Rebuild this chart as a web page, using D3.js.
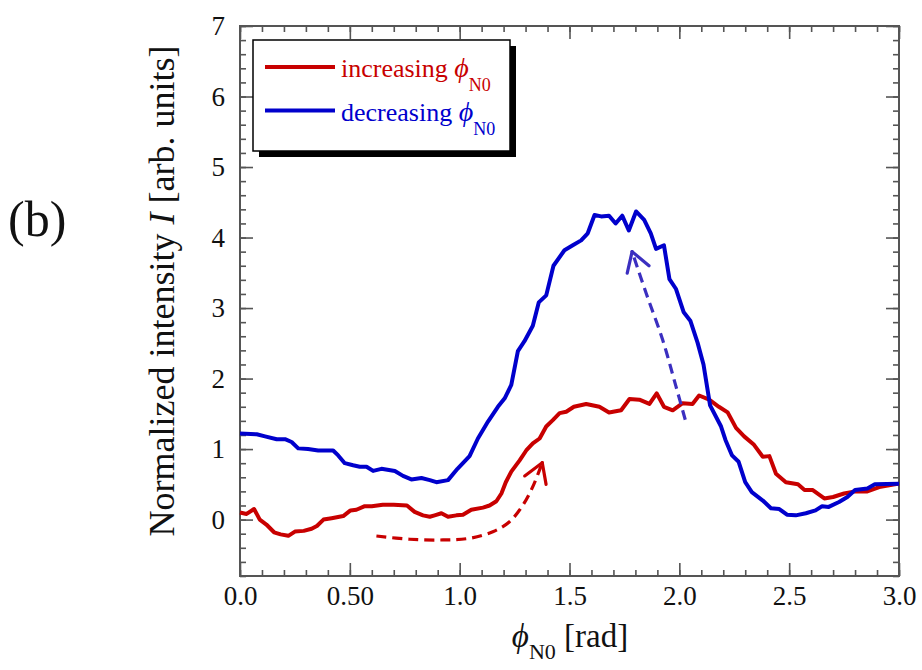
<!DOCTYPE html>
<html><head><meta charset="utf-8">
<script src="https://cdn.jsdelivr.net/npm/d3@7"></script>
<style>body{margin:0;background:#fff}svg{display:block}text{font-family:"Liberation Serif","Times New Roman",serif}</style>
</head><body>
<svg id="c" width="922" height="670"></svg>
<script>
// ---- data ----
const incPhi = [0.0,0.03,0.064,0.09,0.12,0.155,0.185,0.22,0.25,0.29,0.326,0.35,0.38,0.417,0.47,0.503,0.53,0.568,0.6,0.65,0.70,0.76,0.795,0.833,0.864,0.886,0.917,0.947,0.985,1.015,1.053,1.106,1.136,1.167,1.19,1.21,1.235,1.273,1.303,1.333,1.364,1.394,1.424,1.455,1.485,1.52,1.576,1.636,1.68,1.735,1.773,1.818,1.864,1.897,1.93,1.97,2.015,2.06,2.09,2.136,2.18,2.22,2.258,2.295,2.34,2.38,2.41,2.44,2.485,2.54,2.57,2.606,2.66,2.70,2.75,2.80,2.856,2.91,3.0];
const incI   = [0.10,0.08,0.15,0.0,-0.07,-0.18,-0.21,-0.23,-0.17,-0.16,-0.13,-0.09,0.0,0.02,0.05,0.13,0.14,0.19,0.19,0.21,0.21,0.20,0.11,0.06,0.04,0.06,0.09,0.04,0.06,0.07,0.14,0.17,0.20,0.26,0.37,0.53,0.68,0.84,0.98,1.08,1.15,1.32,1.41,1.51,1.53,1.60,1.64,1.60,1.52,1.55,1.71,1.70,1.64,1.79,1.60,1.55,1.65,1.64,1.76,1.70,1.60,1.52,1.30,1.18,1.06,0.89,0.90,0.65,0.53,0.50,0.42,0.42,0.30,0.32,0.37,0.40,0.40,0.46,0.51];
const decPhi = [0.0,0.076,0.114,0.167,0.205,0.235,0.265,0.31,0.356,0.424,0.447,0.477,0.515,0.545,0.576,0.606,0.644,0.705,0.742,0.78,0.826,0.864,0.894,0.947,0.99,1.045,1.083,1.129,1.174,1.205,1.235,1.265,1.295,1.333,1.36,1.394,1.427,1.477,1.515,1.553,1.583,1.614,1.644,1.68,1.71,1.74,1.77,1.803,1.84,1.87,1.894,1.93,1.955,1.985,2.02,2.05,2.083,2.11,2.14,2.19,2.21,2.24,2.27,2.30,2.33,2.38,2.417,2.455,2.49,2.53,2.576,2.62,2.65,2.68,2.727,2.765,2.80,2.856,2.89,3.0];
const decI   = [1.22,1.21,1.18,1.14,1.14,1.10,1.01,1.00,0.98,0.98,0.91,0.80,0.77,0.75,0.75,0.69,0.72,0.69,0.62,0.57,0.59,0.56,0.53,0.56,0.72,0.90,1.15,1.39,1.60,1.72,1.91,2.39,2.53,2.75,3.08,3.18,3.60,3.82,3.89,3.96,4.06,4.32,4.30,4.31,4.20,4.31,4.10,4.37,4.25,4.06,3.84,3.89,3.41,3.27,2.94,2.82,2.51,2.20,1.62,1.32,1.13,0.91,0.82,0.53,0.39,0.27,0.16,0.15,0.07,0.06,0.09,0.13,0.19,0.18,0.25,0.32,0.42,0.44,0.50,0.51];
// annotation arrows (data coordinates)
const arrowIncPhi = [0.621,0.773,0.924,1.045,1.151,1.227,1.288,1.333,1.376];
const arrowIncI   = [-0.233,-0.279,-0.289,-0.265,-0.172,-0.030,0.207,0.467,0.807];
const arrowDecPhi = [2.027,1.985,1.924,1.849,1.785];
const arrowDecI   = [1.416,1.885,2.55,3.21,3.80];
const xMajor = [0,0.5,1.0,1.5,2.0,2.5,3.0];
const xLabels = ["0.0","0.50","1.0","1.5","2.0","2.5","3.0"];
const yMajor = [0,1,2,3,4,5,6,7];
const seriesNames = ["increasing","decreasing"];
const seriesColors = ["#c80000","#0000cc"];
const arrowColors = ["#c80000","#3b2fc0"];

// ---- layout ----
const L=240,R=899,T=26,B=576;
const svg=d3.select("#c");
const x=d3.scaleLinear().domain([0,3]).range([L,R]);
const y=d3.scaleLinear().domain([-0.8,7]).range([B,T]);
const xMinor=d3.range(0,3.0001,0.1).map(v=>+v.toFixed(2));
const yMinor=d3.range(-0.8,7.0001,0.2).map(v=>+v.toFixed(2));
const frameCol="#555";

function styleAxis(g){g.select(".domain").remove();g.selectAll(".tick line").attr("stroke",frameCol).attr("stroke-width",1.6);}
// bottom
svg.append("g").attr("transform",`translate(0,${B})`).call(d3.axisBottom(x).tickValues(xMinor).tickSize(-6).tickFormat("")).call(styleAxis);
svg.append("g").attr("transform",`translate(0,${B})`).call(d3.axisBottom(x).tickValues(xMajor).tickSize(-13).tickPadding(10).tickFormat((d,i)=>xLabels[i])).call(styleAxis)
  .selectAll("text").attr("font-size",27).attr("fill","#111").attr("dy","0.72em");
// top
svg.append("g").attr("transform",`translate(0,${T})`).call(d3.axisTop(x).tickValues(xMinor).tickSize(-6).tickFormat("")).call(styleAxis);
svg.append("g").attr("transform",`translate(0,${T})`).call(d3.axisTop(x).tickValues(xMajor).tickSize(-13).tickFormat("")).call(styleAxis);
// left
svg.append("g").attr("transform",`translate(${L},0)`).call(d3.axisLeft(y).tickValues(yMinor).tickSize(-6).tickFormat("")).call(styleAxis);
svg.append("g").attr("transform",`translate(${L},0)`).call(d3.axisLeft(y).tickValues(yMajor).tickSize(-13).tickPadding(15).tickFormat(d3.format("d"))).call(styleAxis)
  .selectAll("text").attr("font-size",27).attr("fill","#111");
// right
svg.append("g").attr("transform",`translate(${R},0)`).call(d3.axisRight(y).tickValues(yMinor).tickSize(-6).tickFormat("")).call(styleAxis);
svg.append("g").attr("transform",`translate(${R},0)`).call(d3.axisRight(y).tickValues(yMajor).tickSize(-13).tickFormat("")).call(styleAxis);
// frame
svg.append("rect").attr("x",L).attr("y",T).attr("width",R-L).attr("height",B-T).attr("fill","none").attr("stroke",frameCol).attr("stroke-width",2);

// curves
const line=d3.line().x(d=>x(d[0])).y(d=>y(d[1]));
const inc=incPhi.map((p,i)=>[p,incI[i]]);
const dec=decPhi.map((p,i)=>[p,decI[i]]);
svg.append("path").datum(inc).attr("d",line).attr("fill","none").attr("stroke",seriesColors[0]).attr("stroke-width",4).attr("stroke-linejoin","round");
svg.append("path").datum(dec).attr("d",line).attr("fill","none").attr("stroke",seriesColors[1]).attr("stroke-width",4).attr("stroke-linejoin","round");

// dashed arrows
function arrow(ph,iv,col){
  const pts=ph.map((p,i)=>[p,iv[i]]);
  svg.append("path").datum(pts).attr("d",d3.line().x(d=>x(d[0])).y(d=>y(d[1])).curve(d3.curveCatmullRom))
    .attr("fill","none").attr("stroke",col).attr("stroke-width",3.2).attr("stroke-dasharray","10,6");
  const a=pts[pts.length-2],b=pts[pts.length-1];
  const bx=x(b[0]),by=y(b[1]),ax=x(a[0]),ay=y(a[1]);
  const ang=Math.atan2(by-ay,bx-ax);
  const len=22,spread=0.55;
  [ang+Math.PI-spread,ang+Math.PI+spread].forEach(t=>{
    svg.append("line").attr("x1",bx).attr("y1",by).attr("x2",bx+len*Math.cos(t)).attr("y2",by+len*Math.sin(t))
      .attr("stroke",col).attr("stroke-width",3.2).attr("stroke-linecap","round");
  });
}
arrow(arrowIncPhi,arrowIncI,arrowColors[0]);
arrow(arrowDecPhi,arrowDecI,arrowColors[1]);

// legend
const lg=svg.append("g");
lg.append("rect").attr("x",259).attr("y",46).attr("width",257).attr("height",111).attr("fill","#000");
lg.append("rect").attr("x",253).attr("y",40).attr("width",257).attr("height",111).attr("fill","#fff").attr("stroke","#000").attr("stroke-width",1.5);
seriesNames.forEach((n,i)=>{
  const yy=67+i*43.5;
  lg.append("line").attr("x1",265).attr("x2",335).attr("y1",yy).attr("y2",yy).attr("stroke",seriesColors[i]).attr("stroke-width",4);
  const t=lg.append("text").attr("x",341).attr("y",yy+10).attr("font-size",26).attr("fill",seriesColors[i]);
  t.append("tspan").text(n+" ");
  t.append("tspan").attr("font-style","italic").attr("font-size",28).text("ϕ");
  t.append("tspan").attr("font-size",18).attr("dy",14).text("N0");
});

// axis labels
const xl=svg.append("text").attr("x",570).attr("y",647).attr("text-anchor","middle").attr("font-size",33).attr("fill","#111");
xl.append("tspan").attr("font-style","italic").text("ϕ");
xl.append("tspan").attr("font-size",22).attr("dy",12).text("N0");
xl.append("tspan").attr("dy",-12).text(" [rad]");
const yl=svg.append("text").attr("transform","translate(174,291) rotate(-90)").attr("text-anchor","middle").attr("font-size",36).attr("fill","#111");
yl.append("tspan").text("Normalized intensity ");
yl.append("tspan").attr("font-style","italic").text("I");
yl.append("tspan").text(" [arb. units]");

svg.append("text").attr("x",8).attr("y",236).attr("font-size",50).attr("fill","#111").text("(b)");
</script>
</body></html>
